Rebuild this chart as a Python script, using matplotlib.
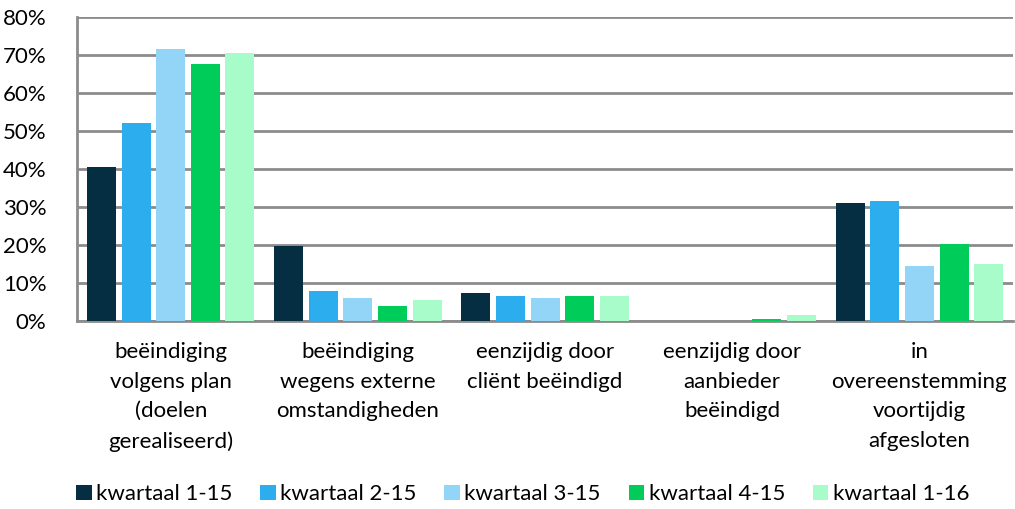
import matplotlib
matplotlib.use('Agg')
import matplotlib.pyplot as plt
import numpy as np
from matplotlib.ticker import FuncFormatter

plt.rcParams['font.family'] = ['Lato', 'DejaVu Sans']

categories = ['beëindiging\nvolgens plan\n(doelen\ngerealiseerd)',
              'beëindiging\nwegens externe\nomstandigheden',
              'eenzijdig door\ncliënt beëindigd',
              'eenzijdig door\naanbieder\nbeëindigd',
              'in\novereenstemming\nvoortijdig\nafgesloten']
series = ['kwartaal 1-15', 'kwartaal 2-15', 'kwartaal 3-15', 'kwartaal 4-15', 'kwartaal 1-16']
k1_15 = [40.5, 19.7, 7.5, 0.0, 31.0]
k2_15 = [52.2, 8.0, 6.5, 0.0, 31.7]
k3_15 = [71.6, 6.0, 6.0, 0.1, 14.4]
k4_15 = [67.5, 4.0, 6.5, 0.6, 20.2]
k1_16 = [70.6, 5.5, 6.5, 1.6, 14.9]
values = [k1_15, k2_15, k3_15, k4_15, k1_16]
colors = ['#052e43', '#2caeee', '#93d5f7', '#00cc5a', '#a7fcc9']

fig = plt.figure(figsize=(10.15, 5.09), dpi=100)
ax = fig.add_axes([0.076, 0.369, 0.922, 0.598])

x = np.arange(len(categories))
step = 0.185
width = 0.155
for i, (name, vals) in enumerate(zip(series, values)):
    ax.bar(x + (i - 2) * step, vals, width, color=colors[i], label=name, zorder=3)

ax.set_xlim(-0.5, len(categories) - 0.5)
ax.set_ylim(0, 80)
ax.set_yticks(np.arange(0, 81, 10))
ax.yaxis.set_major_formatter(FuncFormatter(lambda v, p: f'{v:.0f}%'))
ax.grid(axis='y', color='#8c8c8c', linewidth=2, zorder=0)
for s in ['top', 'right']:
    ax.spines[s].set_visible(False)
for s in ['left', 'bottom']:
    ax.spines[s].set_color('#8c8c8c')
    ax.spines[s].set_linewidth(2)
ax.tick_params(axis='y', length=0, labelsize=16, pad=22)
ax.tick_params(axis='x', length=0, labelsize=16, pad=15)
ax.set_xticks(x)
ax.set_xticklabels(categories, linespacing=1.6, va='top')

fig.legend(loc='lower center', bbox_to_anchor=(0.515, -0.03), ncol=5, frameon=False,
           fontsize=16, handlelength=0.7, handleheight=0.7, handletextpad=0.2,
           columnspacing=1.25)

fig.savefig('out.png', dpi=100)
